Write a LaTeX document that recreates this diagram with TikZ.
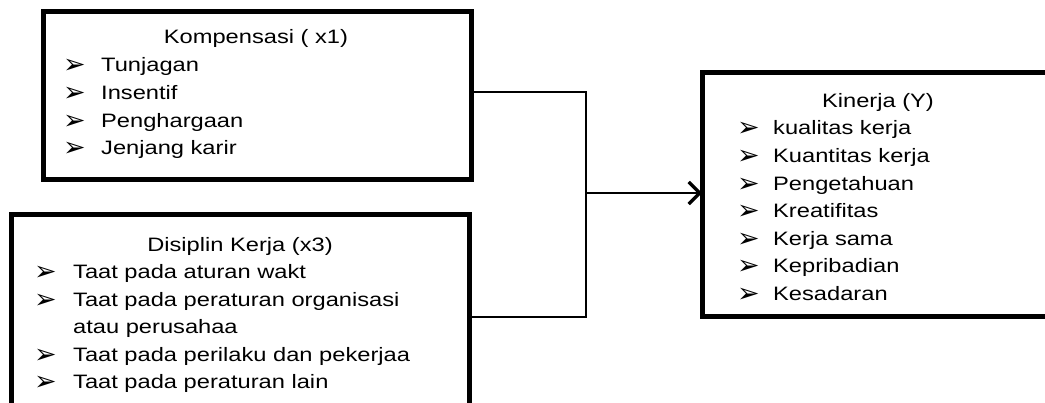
\documentclass[tikz,border=0pt]{standalone}
\usepackage{fontspec}
\setmainfont{Liberation Sans}[FakeStretch=1.22]
\newfontfamily\bulletfont{DejaVu Sans}
\usetikzlibrary{arrows.meta}
\begin{document}
\begin{tikzpicture}[x=1pt,y=-1pt,
  box/.style={draw=black,line width=5pt,inner sep=0pt,outer sep=0pt,rectangle},
  txt/.style={anchor=base west,inner sep=0pt,font=\fontsize{19.4}{27.6}\selectfont},
  ttl/.style={anchor=base,inner sep=0pt,font=\fontsize{19.4}{27.6}\selectfont},
  bul/.style={anchor=base west,inner sep=0pt,yshift=-2pt,font=\bulletfont\fontsize{27}{30}\selectfont},
  conn/.style={draw=black,line width=2.2pt},
  arr/.style={conn,-{Straight Barb[length=11pt,width=22pt,line width=3.2pt]}}]
\clip (0,0) rectangle (1045,403);
\fill[white] (0,0) rectangle (1045,403);
% boxes
\node[box,minimum width=428pt,minimum height=168pt] (k) at (257,95.6) {};
\node[box,minimum width=457.3pt,minimum height=260pt] (d) at (240.35,345) {};
\node[box,minimum width=370pt,minimum height=244pt] (y) at (887,195) {};
% junction coordinates
\coordinate (j1) at (586,92);
\coordinate (j2) at (586,317);
\coordinate (j3) at (586,193);
% connectors
\draw[conn] (k.east |- j1) -- (j1) -- (j2) -- (d.east |- j2);
\draw[arr] (j3) -- (j3 -| y.west);
% Kompensasi
\node[ttl] (kt) at (256,44) {Kompensasi ( x1)};
\node[bul] (kb1) at (63,72) {➢};
\node[txt] (k1) at (101,72) {Tunjagan};
\node[bul] (kb2) at (63,99.6) {➢};
\node[txt] (k2) at (101,99.6) {Insentif};
\node[bul] (kb3) at (63,127.2) {➢};
\node[txt] (k3) at (101,127.2) {Penghargaan};
\node[bul] (kb4) at (63,154.8) {➢};
\node[txt] (k4) at (101,154.8) {Jenjang karir};
% Disiplin
\node[ttl] (dt) at (240,251.7) {Disiplin Kerja (x3)};
\node[bul] (db1) at (34,279) {➢};
\node[txt] (d1) at (73,279) {Taat pada aturan wakt};
\node[bul] (db2) at (34,306.5) {➢};
\node[txt] (d2) at (73,306.5) {Taat pada peraturan organisasi};
\node[txt] (d2b) at (73,334) {atau perusahaa};
\node[bul] (db3) at (34,361.5) {➢};
\node[txt] (d3) at (73,361.5) {Taat pada perilaku dan pekerjaa};
\node[bul] (db4) at (34,389) {➢};
\node[txt] (d4) at (73,389) {Taat pada peraturan lain};
% Kinerja
\node[ttl] (yt) at (878,107.3) {Kinerja (Y)};
\node[bul] (yb1) at (737,134.9) {➢};
\node[txt] (y1) at (773,134.9) {kualitas kerja};
\node[bul] (yb2) at (737,162.5) {➢};
\node[txt] (y2) at (773,162.5) {Kuantitas kerja};
\node[bul] (yb3) at (737,190.1) {➢};
\node[txt] (y3) at (773,190.1) {Pengetahuan};
\node[bul] (yb4) at (737,217.7) {➢};
\node[txt] (y4) at (773,217.7) {Kreatifitas};
\node[bul] (yb5) at (737,245.3) {➢};
\node[txt] (y5) at (773,245.3) {Kerja sama};
\node[bul] (yb6) at (737,272.9) {➢};
\node[txt] (y6) at (773,272.9) {Kepribadian};
\node[bul] (yb7) at (737,300.5) {➢};
\node[txt] (y7) at (773,300.5) {Kesadaran};
\end{tikzpicture}
\end{document}
